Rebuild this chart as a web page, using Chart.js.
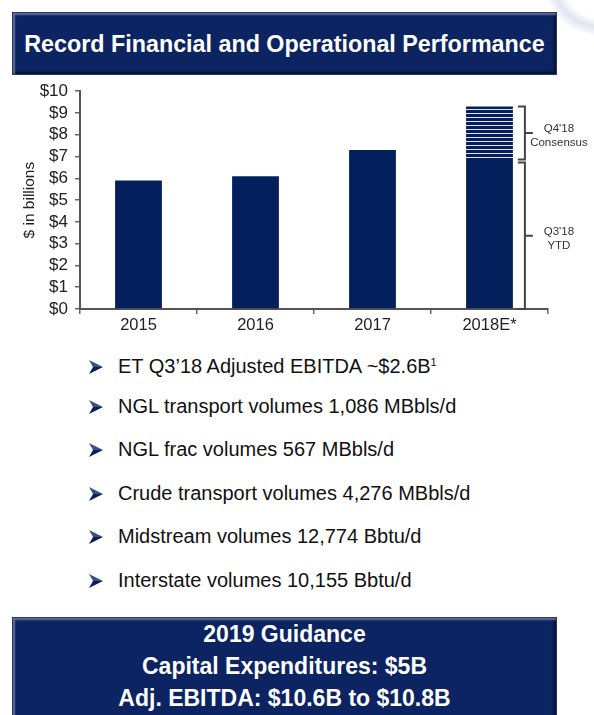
<!DOCTYPE html>
<html>
<head>
<meta charset="utf-8">
<script src="https://cdn.jsdelivr.net/npm/chart.js@4.4.1/dist/chart.umd.min.js"></script>
<style>
  html, body { margin: 0; padding: 0; background: #fff; width: 594px; height: 715px; overflow: hidden; font-family: "Liberation Sans", Arial, sans-serif; }
  .box { position: absolute; left: 12px; width: 545px; background: #0c2462; color: #fff; font-weight: bold; text-align: center;
         box-shadow: inset 2px 2px 2px rgba(255,255,255,0.35), inset -2px -2px 3px rgba(0,0,0,0.55); border: 1px solid #27376b; box-sizing: border-box; }
  #title { top: 12px; height: 63px; line-height: 62px; font-size: 23.3px; z-index: 2; }
  #footer { top: 617px; height: 110px; font-size: 23px; padding-top: 0px; }
  #footer div { height: 32px; line-height: 32px; }
  #chartWrap { position: absolute; left: 0; top: 74px; width: 594px; height: 266px; }
  #bullets { position: absolute; left: 89px; top: 348px; margin: 0; padding: 0; list-style: none; }
  #bullets li { height: 43.6px; line-height: 28px; font-size: 20px; color: #111; white-space: nowrap; }
  #bullets li svg { display: inline-block; width: 14px; height: 14px; margin-right: 15px; vertical-align: -1px; }
  sup { font-size: 11px; vertical-align: 7px; }
  #swoosh { position: absolute; left: 545px; top: -75px; width: 110px; height: 110px; border-radius: 50%;
            background: radial-gradient(circle at 50% 50%, rgba(255,255,255,0) 48%, rgba(220,224,235,0.85) 60%, rgba(240,242,247,0.6) 70%, rgba(255,255,255,0) 78%); }
</style>
</head>
<body>
<div id="swoosh"></div>
<div id="chartWrap"><canvas id="c"></canvas></div>
<div id="title" class="box"></div>
<ul id="bullets"></ul>
<div id="footer" class="box"></div>
<script>
// ---- data ----
const categories = ['2015', '2016', '2017', '2018E*'];
const ytdValues = [5.9, 6.1, 7.3, 6.8];
const q4Values = [0, 0, 0, 2.5];
const tickLabels = ['$0','$1','$2','$3','$4','$5','$6','$7','$8','$9','$10'];
const axisTitle = '$ in billions';
const bracketLabels = [["Q3'18", 'YTD'], ["Q4'18", 'Consensus']];
const bulletItems = [
  'ET Q3\u201918 Adjusted EBITDA ~$2.6B<sup>1</sup>',
  'NGL transport volumes 1,086 MBbls/d',
  'NGL frac volumes 567 MBbls/d',
  'Crude transport volumes 4,276 MBbls/d',
  'Midstream volumes 12,774 Bbtu/d',
  'Interstate volumes 10,155 Bbtu/d'
];
const titleText = 'Record Financial and Operational Performance';
const footerLines = ['2019 Guidance', 'Capital Expenditures: $5B', 'Adj. EBITDA: $10.6B to $10.8B'];

const arrowSvg = '<svg viewBox="0 0 14 14"><polygon points="0,0 14,7 4,7" fill="#3a4f86"/><polygon points="4,7 14,7 0,14" fill="#0a1f5a"/></svg>';
document.getElementById('title').textContent = titleText;
document.getElementById('bullets').innerHTML = bulletItems.map(t => '<li>' + arrowSvg + t + '</li>').join('');
document.getElementById('footer').innerHTML = footerLines.map(t => '<div>' + t + '</div>').join('');

const NAVY = '#03205c';
const FONT = '"Liberation Sans", Arial, sans-serif';
function stripePattern() {
  const p = document.createElement('canvas');
  p.width = 8; p.height = 4;
  const g = p.getContext('2d');
  g.fillStyle = NAVY; g.fillRect(0, 0, 8, 4);
  g.fillStyle = '#dfe5f0'; g.fillRect(0, 3, 8, 1);
  return g.createPattern(p, 'repeat');
}

const bracketPlugin = {
  id: 'brackets',
  afterDatasetsDraw(chart) {
    const ctx = chart.ctx;
    const y = chart.scales.y;
    const idx = categories.length - 1;
    const bar = chart.getDatasetMeta(0).data[idx];
    const xr = bar.x + bar.width / 2;
    const bx = xr + 12;
    const segs = [
      [0, ytdValues[idx]],
      [ytdValues[idx], ytdValues[idx] + q4Values[idx]]
    ];
    ctx.save();
    ctx.strokeStyle = '#444';
    ctx.lineWidth = 2;
    segs.forEach((s, i) => {
      const y0 = y.getPixelForValue(s[0]) - (i === 0 ? 0 : 1.5);
      const y1 = y.getPixelForValue(s[1]) + (i === 0 ? 1.5 : 0);
      const ym = (y0 + y1) / 2;
      ctx.beginPath();
      ctx.moveTo(bx - 7, y0); ctx.lineTo(bx, y0); ctx.lineTo(bx, y1); ctx.lineTo(bx - 7, y1);
      ctx.moveTo(bx, ym); ctx.lineTo(bx + 8, ym);
      ctx.stroke();
      ctx.fillStyle = '#333';
      ctx.font = '11.5px ' + FONT;
      ctx.textAlign = 'center';
      ctx.textBaseline = 'middle';
      const lx = bx + 34;
      ctx.fillText(bracketLabels[i][0], lx, ym - 4);
      ctx.fillText(bracketLabels[i][1], lx, ym + 10);
    });
    ctx.restore();
  }
};

new Chart(document.getElementById('c'), {
  type: 'bar',
  data: {
    labels: categories,
    datasets: [
      { label: 'YTD', data: ytdValues, backgroundColor: NAVY, borderWidth: 0 },
      { label: 'Q4 Consensus', data: q4Values, backgroundColor: stripePattern(), borderWidth: 0 }
    ]
  },
  options: {
    responsive: true,
    maintainAspectRatio: false,
    animation: false,
    events: [],
    layout: { padding: { top: 4, right: 46, left: 0, bottom: 0 } },
    datasets: { bar: { categoryPercentage: 1, barPercentage: 0.40 } },
    plugins: { legend: { display: false }, tooltip: { enabled: false } },
    scales: {
      x: {
        stacked: true,
        grid: { display: true, drawOnChartArea: false, drawTicks: true, tickLength: 5, color: '#666', lineWidth: 1.5 },
        border: { display: true, color: '#555', width: 2 },
        ticks: { color: '#222', font: { size: 16.5, family: FONT }, padding: 2 },
        afterFit(s) { s.height = 31; }
      },
      y: {
        stacked: true,
        min: 0, max: 10,
        grid: { display: true, drawOnChartArea: false, drawTicks: true, tickLength: 5, color: '#666', lineWidth: 1.5 },
        border: { display: true, color: '#555', width: 2 },
        ticks: { stepSize: 1, autoSkip: false, color: '#222', padding: 7, font: { size: 17, family: FONT },
                 callback: (v) => tickLabels[v] },
        title: { display: true, text: axisTitle, color: '#222', font: { size: 15.5, family: FONT }, padding: { top: 20, bottom: 2 } },
        afterFit(s) { s.width = 80; }
      }
    }
  },
  plugins: [bracketPlugin]
});
</script>
</body>
</html>
